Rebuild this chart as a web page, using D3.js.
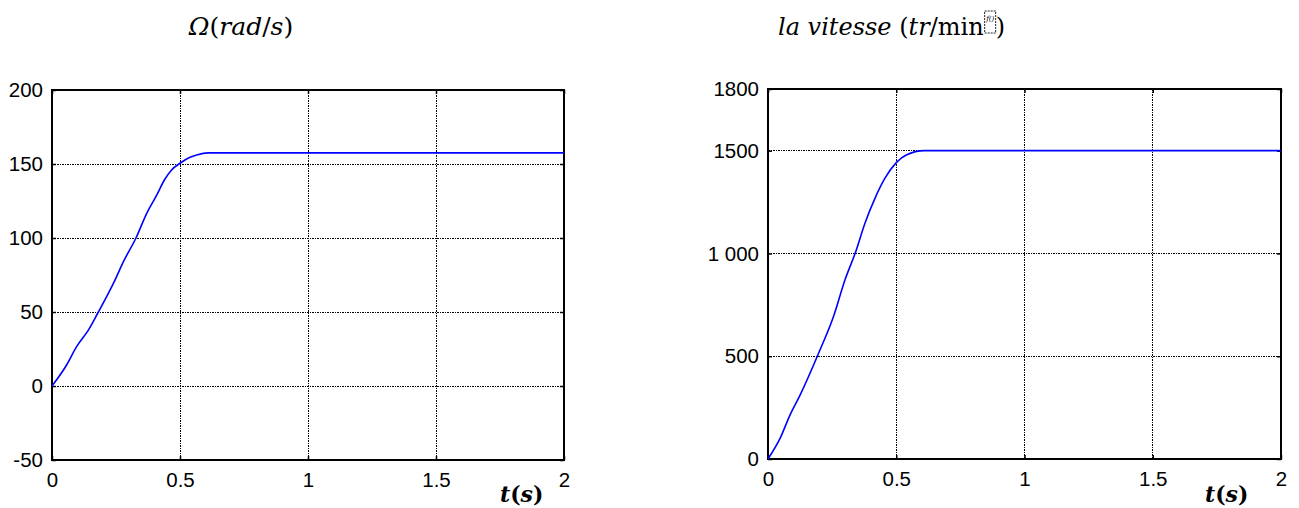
<!DOCTYPE html>
<html>
<head>
<meta charset="utf-8">
<script src="https://cdn.jsdelivr.net/npm/d3@7"></script>
<style>
  body { margin: 0; background: #fff; }
  .tick text { font-family: "Liberation Sans", Arial, sans-serif; font-size: 20.5px; fill: #000; }
  .grid line { stroke: #000; stroke-width: 1; stroke-dasharray: 1.5,1; shape-rendering: crispEdges; }
  .math { font-family: "DejaVu Serif", serif; fill: #000; }
</style>
</head>
<body>
<svg id="chart" width="1299" height="508"></svg>
<script>
// time axis shared by both plots
var timeTicks = [0, 0.5, 1, 1.5, 2];

// left plot: rotor speed in rad/s
var omegaTicks = [-50, 0, 50, 100, 150, 200];
var omegaT = [0, 0.057, 0.096, 0.142, 0.181, 0.22, 0.246, 0.279, 0.328, 0.37, 0.409, 0.439, 0.467, 0.5, 0.539, 0.565, 0.611, 2.0];
var omegaV = [0, 14.2, 26.6, 37.8, 50, 62.6, 71.6, 84, 100, 116.7, 129, 139.2, 146, 150.5, 154.5, 156.1, 157.5, 157.5];

// right plot: speed in tr/min
var speedTicks = [0, 500, 1000, 1500, 1800];
var speedTickLabels = ["0", "500", "1 000", "1500", "1800"];
var speedT = [0, 0.047, 0.086, 0.125, 0.196, 0.255, 0.3, 0.341, 0.378, 0.417, 0.456, 0.5, 0.539, 0.61, 2.0];
var speedV = [0, 100, 215, 311, 511, 692, 871, 1005, 1147, 1268, 1366, 1442, 1479, 1500, 1500];

var svg = d3.select('#chart');

function drawPanel(p) {
  var x = d3.scaleLinear().domain([0, 2]).range([p.left, p.left + p.width]);
  var y = d3.scaleLinear().domain([p.yTicks[0], p.yTicks[p.yTicks.length - 1]]).range([p.top + p.height, p.top]);
  var g = svg.append('g');

  // dotted grid (inner lines only)
  var grid = g.append('g').attr('class', 'grid');
  grid.selectAll('.vx').data(timeTicks.slice(1, -1)).enter().append('line')
      .attr('x1', function(d) { return x(d); }).attr('x2', function(d) { return x(d); })
      .attr('y1', p.top).attr('y2', p.top + p.height);
  grid.selectAll('.hy').data(p.yTicks.slice(1, -1)).enter().append('line')
      .attr('y1', function(d) { return y(d); }).attr('y2', function(d) { return y(d); })
      .attr('x1', p.left).attr('x2', p.left + p.width);

  // axes with inward ticks
  var ax = g.append('g').attr('transform', 'translate(0,' + (p.top + p.height) + ')')
      .call(d3.axisBottom(x).tickValues(timeTicks).tickFormat(d3.format('')).tickSizeInner(-4).tickSizeOuter(0).tickPadding(12));
  var ay = g.append('g').attr('transform', 'translate(' + p.left + ',0)')
      .call(d3.axisLeft(y).tickValues(p.yTicks).tickFormat(function(d, i) { return p.yLabels[i]; }).tickSizeInner(-4).tickSizeOuter(0).tickPadding(9));
  var at = g.append('g').attr('transform', 'translate(0,' + p.top + ')')
      .call(d3.axisTop(x).tickValues(timeTicks).tickFormat('').tickSizeInner(-4).tickSizeOuter(0));
  var ar = g.append('g').attr('transform', 'translate(' + (p.left + p.width) + ',0)')
      .call(d3.axisRight(y).tickValues(p.yTicks).tickFormat('').tickSizeInner(-4).tickSizeOuter(0));
  [ax, ay, at, ar].forEach(function(a) {
    a.select('.domain').remove();
    a.selectAll('.tick line').attr('stroke', '#000').attr('stroke-width', 1.5);
  });

  // frame
  g.append('rect')
   .attr('x', p.left).attr('y', p.top)
   .attr('width', p.width).attr('height', p.height)
   .attr('fill', 'none').attr('stroke', '#000').attr('stroke-width', 2);

  // the curve
  var pts = p.t.map(function(t, i) { return [t, p.v[i]]; });
  var line = d3.line()
      .curve(d3.curveMonotoneX)
      .x(function(d) { return x(d[0]); })
      .y(function(d) { return y(d[1]); });
  g.append('path')
   .attr('d', line(pts))
   .attr('fill', 'none')
   .attr('stroke', '#0000ff')
   .attr('stroke-width', 1.6);

  // t(s) label
  var tl = g.append('text').attr('class', 'math')
      .attr('x', p.tLabelX).attr('y', 502).attr('font-size', 22);
  tl.append('tspan').attr('font-style', 'italic').attr('font-weight', 'bold').text('t');
  tl.append('tspan').attr('font-weight', 'bold').text('(');
  tl.append('tspan').attr('font-style', 'italic').attr('font-weight', 'bold').text('s');
  tl.append('tspan').attr('font-weight', 'bold').text(')');
}

drawPanel({ left: 52, top: 90, width: 512, height: 370,
            yTicks: omegaTicks, yLabels: omegaTicks.map(String),
            t: omegaT, v: omegaV, tLabelX: 500 });
drawPanel({ left: 768, top: 89, width: 513, height: 370,
            yTicks: speedTicks, yLabels: speedTickLabels,
            t: speedT, v: speedV, tLabelX: 1205 });

// titles
var t1 = svg.append('text').attr('class', 'math')
    .attr('x', 241).attr('y', 35).attr('text-anchor', 'middle').attr('font-size', 25);
t1.append('tspan').attr('font-style', 'italic').text('Ω');
t1.append('tspan').text('(');
t1.append('tspan').attr('font-style', 'italic').text('rad');
t1.append('tspan').text('/');
t1.append('tspan').attr('font-style', 'italic').text('s');
t1.append('tspan').text(')');

var t2 = svg.append('text').attr('class', 'math')
    .attr('x', 778).attr('y', 35).attr('font-size', 24);
t2.append('tspan').attr('font-style', 'italic').text('la vitesse ');
t2.append('tspan').text('(');
t2.append('tspan').attr('font-style', 'italic').text('tr');
t2.append('tspan').text('/min');
var w2 = t2.node().getComputedTextLength();
// placeholder glyph box left by the equation editor
var bx = 778 + w2 + 1;
svg.append('rect').attr('x', bx).attr('y', 11).attr('width', 11).attr('height', 22)
   .attr('fill', 'none').attr('stroke', '#222').attr('stroke-width', 1).attr('stroke-dasharray', '2,1');
svg.append('text').attr('x', bx + 1.5).attr('y', 21).attr('font-size', 7)
   .attr('font-family', 'DejaVu Serif').attr('font-style', 'italic').text('f()');
svg.append('text').attr('class', 'math').attr('x', bx + 11).attr('y', 35).attr('font-size', 24).text(')');
</script>
</body>
</html>
